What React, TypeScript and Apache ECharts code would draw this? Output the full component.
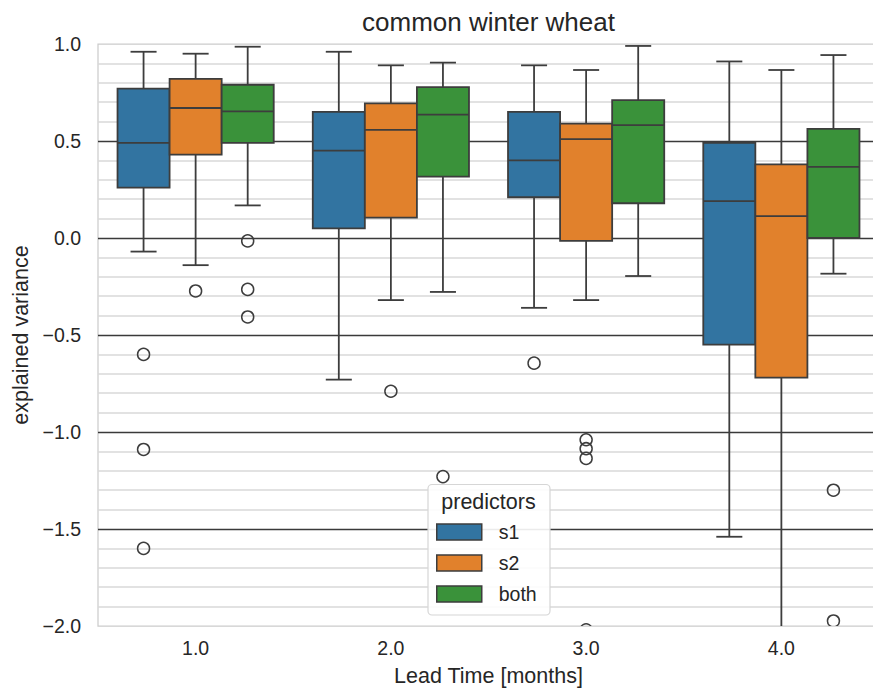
import React, { useEffect, useRef } from 'react';
import * as echarts from 'echarts';

const categories = ['1.0', '2.0', '3.0', '4.0'];
const predictors = ['s1', 's2', 'both'];
const predictorColors = ['#3274a1', '#e1812c', '#3a923a'];

// [lower whisker, Q1, median, Q3, upper whisker] for each lead time
const s1Stats = [
  [-0.07, 0.26, 0.49, 0.77, 0.96],
  [-0.73, 0.05, 0.45, 0.65, 0.96],
  [-0.36, 0.21, 0.40, 0.65, 0.89],
  [-1.54, -0.55, 0.19, 0.49, 0.91],
];
const s2Stats = [
  [-0.14, 0.43, 0.67, 0.82, 0.95],
  [-0.32, 0.105, 0.557, 0.694, 0.89],
  [-0.32, -0.015, 0.51, 0.59, 0.866],
  [-2.35, -0.72, 0.113, 0.38, 0.866],
];
const bothStats = [
  [0.168, 0.49, 0.653, 0.79, 0.986],
  [-0.278, 0.316, 0.636, 0.778, 0.904],
  [-0.196, 0.179, 0.582, 0.711, 0.99],
  [-0.184, 0.0, 0.367, 0.563, 0.943],
];

// outliers: [lead time index, value]
const s1Outliers = [[0, -0.6], [0, -1.09], [0, -1.6], [2, -0.645]];
const s2Outliers = [[0, -0.273], [0, -2.035], [1, -0.79], [2, -1.04], [2, -1.086], [2, -1.136], [2, -2.02]];
const bothOutliers = [[0, -0.015], [0, -0.265], [0, -0.407], [1, -1.23], [3, -1.3], [3, -1.974]];

const yTickValues = [-2, -1.5, -1, -0.5, 0, 0.5, 1];
const yTickLabels = ['\u22122.0', '\u22121.5', '\u22121.0', '\u22120.5', '0.0', '0.5', '1.0'];

const titleText = 'common winter wheat';
const xName = 'Lead Time [months]';
const yName = 'explained variance';
const legendTitle = 'predictors';

const FONT = "'Liberation Sans', Arial, sans-serif";
const TEXT = '#262626';
const LINE = '#3d3d3d';
const LW = 1.8;

const allStats = [s1Stats, s2Stats, bothStats];
const allOutliers = [s1Outliers, s2Outliers, bothOutliers];

function boxRenderer(k: number) {
  return (params: any, api: any) => {
    const ci = api.value(0);
    const band = api.size([1, 0])[0];
    const w = (band * 0.8) / 3;
    const cx = api.coord([ci, 0])[0] + (k - 1) * w;
    const y = (i: number) => api.coord([ci, api.value(i)])[1];
    const yLo = y(1), yQ1 = y(2), yMed = y(3), yQ3 = y(4), yHi = y(5);
    const capW = w * 0.5;
    const ls = { stroke: LINE, lineWidth: LW };
    return {
      type: 'group',
      children: [
        { type: 'line', shape: { x1: cx, y1: yQ3, x2: cx, y2: yHi }, style: ls },
        { type: 'line', shape: { x1: cx, y1: yQ1, x2: cx, y2: yLo }, style: ls },
        { type: 'line', shape: { x1: cx - capW / 2, y1: yHi, x2: cx + capW / 2, y2: yHi }, style: ls },
        { type: 'line', shape: { x1: cx - capW / 2, y1: yLo, x2: cx + capW / 2, y2: yLo }, style: ls },
        {
          type: 'rect',
          shape: { x: cx - w / 2, y: yQ3, width: w, height: yQ1 - yQ3 },
          style: { fill: predictorColors[k], stroke: LINE, lineWidth: LW },
        },
        { type: 'line', shape: { x1: cx - w / 2, y1: yMed, x2: cx + w / 2, y2: yMed }, style: ls },
      ],
    };
  };
}

function outlierRenderer(k: number) {
  return (params: any, api: any) => {
    const ci = api.value(0);
    const band = api.size([1, 0])[0];
    const w = (band * 0.8) / 3;
    const p = api.coord([ci, api.value(1)]);
    return {
      type: 'circle',
      shape: { cx: p[0] + (k - 1) * w, cy: p[1], r: 6 },
      style: { fill: 'none', stroke: LINE, lineWidth: 1.5 },
    };
  };
}

export default function App() {
  const ref = useRef<HTMLDivElement>(null);
  useEffect(() => {
    if (!ref.current) return;
    const chart = echarts.init(ref.current, null, { renderer: 'svg' });
    const series: any[] = [];
    predictors.forEach((name, k) => {
      series.push({
        type: 'custom',
        name,
        clip: true,
        renderItem: boxRenderer(k),
        encode: { x: 0, y: [1, 2, 3, 4, 5] },
        itemStyle: { color: predictorColors[k] },
        data: allStats[k].map((s, i) => [i, ...s]),
        z: 3,
      });
      series.push({
        type: 'custom',
        name,
        clip: true,
        renderItem: outlierRenderer(k),
        encode: { x: 0, y: 1 },
        itemStyle: { color: predictorColors[k] },
        data: allOutliers[k],
        z: 4,
      });
    });
    chart.setOption({
      animation: false,
      backgroundColor: '#ffffff',
      textStyle: { fontFamily: FONT },
      grid: {
        left: 98,
        top: 44,
        width: 781,
        height: 582,
        containLabel: false,
        outerBoundsMode: 'none',
        show: true,
        borderColor: '#cccccc',
        borderWidth: 1.25,
        backgroundColor: '#ffffff',
      },
      xAxis: {
        type: 'category',
        data: categories,
        boundaryGap: true,
        axisLine: { show: false },
        axisTick: { show: false },
        splitLine: { show: false },
        axisLabel: { fontSize: 19.5, color: TEXT, margin: 12, fontFamily: FONT },
        name: xName,
        nameLocation: 'middle',
        nameGap: 39,
        nameTextStyle: { fontSize: 21.5, color: TEXT, fontFamily: FONT },
      },
      yAxis: {
        type: 'value',
        min: -2,
        max: 1,
        interval: 0.5,
        axisLine: { show: false },
        axisTick: { show: false },
        axisLabel: {
          fontSize: 19.5,
          color: TEXT,
          margin: 17,
          fontFamily: FONT,
          formatter: (v: number) => {
            const i = yTickValues.findIndex((t) => Math.abs(t - v) < 1e-9);
            return i >= 0 ? yTickLabels[i] : '';
          },
        },
        splitLine: {
          show: true,
          showMinLine: false,
          showMaxLine: false,
          lineStyle: { color: '#3a3a3a', width: 1.3 },
        },
        minorTick: { show: false, splitNumber: 5 },
        minorSplitLine: { show: true, lineStyle: { color: '#d8d8d8', width: 1.5 } },
        name: yName,
        nameLocation: 'middle',
        nameGap: 64,
        nameTextStyle: { fontSize: 21.5, color: TEXT, fontFamily: FONT },
      },
      legend: {
        show: true,
        orient: 'vertical',
        left: 436,
        top: 522,
        padding: 0,
        itemWidth: 45,
        itemHeight: 16,
        itemGap: 11,
        icon: 'rect',
        selectedMode: false,
        z: 20,
        textStyle: { fontSize: 19.5, color: TEXT, fontFamily: FONT, lineHeight: 20, padding: [0, 0, 0, 12] },
        data: predictors.map((name, k) => ({
          name,
          icon: 'rect',
          itemStyle: { color: predictorColors[k], borderColor: LINE, borderWidth: 1.5 },
        })),
      },
      graphic: [
        {
          type: 'text',
          x: 488.5,
          y: 22,
          z: 20,
          style: {
            text: titleText,
            fontSize: 26,
            fontFamily: FONT,
            fill: TEXT,
            textAlign: 'center',
            textVerticalAlign: 'middle',
          },
        },
        {
          type: 'rect',
          z: 15,
          shape: { x: 428, y: 484.5, width: 122, height: 130.5, r: 4 },
          style: { fill: 'rgba(255,255,255,0.9)', stroke: '#d6d6d6', lineWidth: 1.2 },
        },
        {
          type: 'text',
          x: 488.5,
          y: 501.5,
          z: 20,
          style: {
            text: legendTitle,
            fontSize: 21.5,
            fontFamily: FONT,
            fill: TEXT,
            textAlign: 'center',
            textVerticalAlign: 'middle',
          },
        },
      ],
      series,
    });
    return () => chart.dispose();
  }, []);
  return (
    <div
      ref={ref}
      style={{ position: 'absolute', left: 0, top: 0, width: 873, height: 690 }}
    />
  );
}
